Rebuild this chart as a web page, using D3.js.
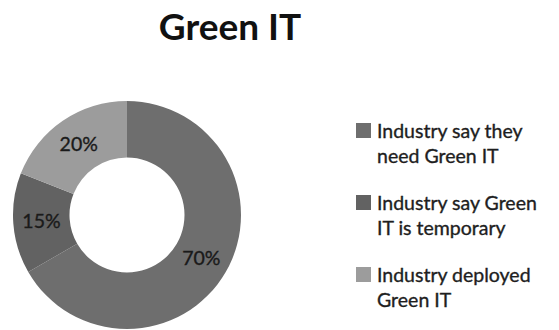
<!DOCTYPE html>
<html>
<head>
<meta charset="utf-8">
<script src="https://cdn.jsdelivr.net/npm/d3@7"></script>
<style>
  html, body { margin: 0; padding: 0; background: #fff; }
  svg { display: block; font-family: Lato, "Open Sans", sans-serif; }
</style>
</head>
<body>
<svg id="chart" width="559" height="330"></svg>
<script>
// Survey shares for the donut
const categories = [
  "Industry say they need Green IT",
  "Industry say Green IT is temporary",
  "Industry deployed Green IT"
];
const values = [70, 15, 20];
const valueLabels = ["70%", "15%", "20%"];
const legendLines = [
  ["Industry say they", "need Green IT"],
  ["Industry say Green", "IT is temporary"],
  ["Industry deployed", "Green IT"]
];
const colors = ["#6e6e6e", "#626262", "#9c9c9c"];

const svg = d3.select("#chart");

// Title
svg.append("text")
  .attr("x", 230).attr("y", 40)
  .attr("text-anchor", "middle")
  .attr("font-size", 37).attr("font-weight", 700)
  .attr("fill", "#111")
  .text("Green IT");

// Donut
const cx = 127, cy = 215, outerR = 114, innerR = 57.5;
const color = d3.scaleOrdinal().domain(categories).range(colors);
const pie = d3.pie().value(d => d.value).sort(null);
const arc = d3.arc().innerRadius(innerR).outerRadius(outerR);
const data = categories.map((c, i) => ({ cat: c, value: values[i], label: valueLabels[i] }));

const g = svg.append("g").attr("transform", `translate(${cx},${cy})`);
const arcs = pie(data);
g.selectAll("path").data(arcs).join("path")
  .attr("d", arc)
  .attr("fill", d => color(d.data.cat));

g.selectAll("text").data(arcs).join("text")
  .attr("transform", d => `translate(${arc.centroid(d)})`)
  .attr("text-anchor", "middle")
  .attr("dy", "0.35em")
  .attr("font-size", 19.5)
  .attr("fill", "#1a1a1a")
  .attr("stroke", "#1a1a1a").attr("stroke-width", 0.35)
  .text(d => d.data.label);

// Legend
const legend = svg.append("g").attr("transform", "translate(356,123)");
const item = legend.selectAll("g").data(categories).join("g")
  .attr("transform", (d, i) => `translate(0,${i * 72})`);
item.append("rect")
  .attr("width", 15).attr("height", 15)
  .attr("fill", d => color(d));
item.append("text")
  .attr("x", 21).attr("y", 15)
  .attr("font-size", 19.5)
  .attr("fill", "#1e1e1e")
  .attr("stroke", "#1e1e1e").attr("stroke-width", 0.35)
  .selectAll("tspan").data((d, i) => legendLines[i]).join("tspan")
  .attr("x", 21)
  .attr("dy", (d, j) => j === 0 ? 0 : 24.5)
  .text(d => d);
</script>
</body>
</html>
